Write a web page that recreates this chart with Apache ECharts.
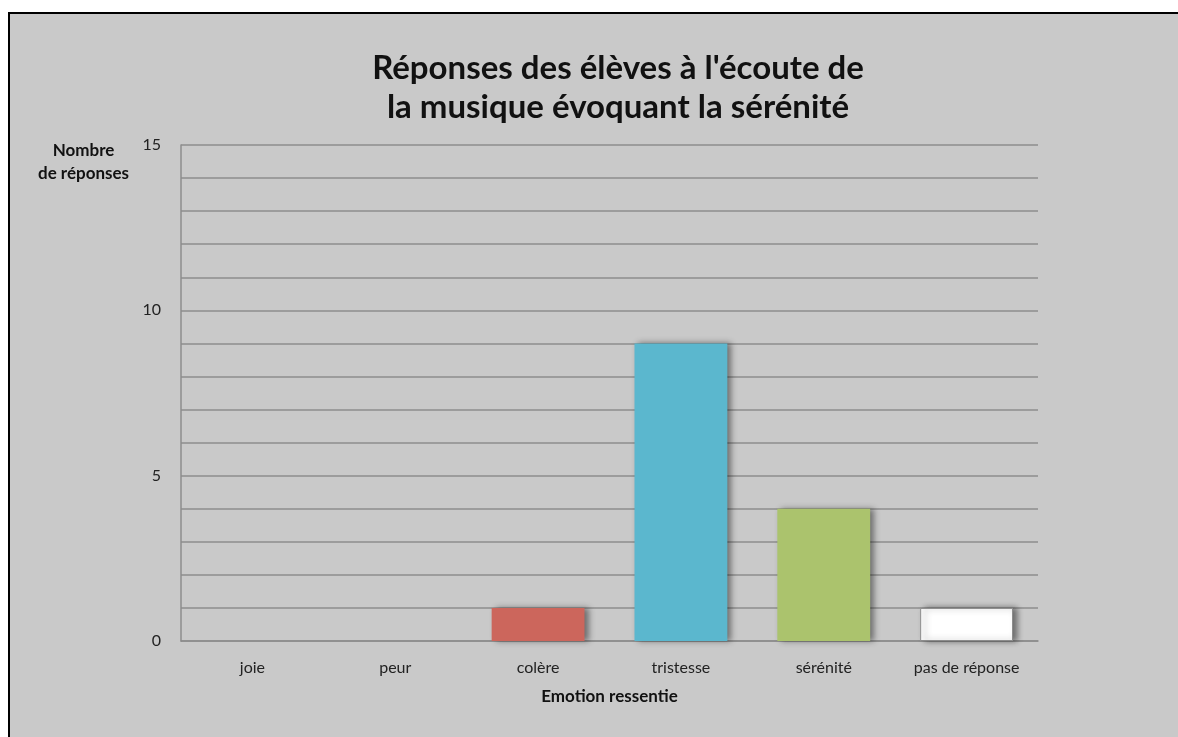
<!DOCTYPE html>
<html>
<head>
<meta charset="utf-8">
<script src="https://cdn.jsdelivr.net/npm/echarts@6/dist/echarts.min.js"></script>
<style>
  body { margin: 0; background: #fff; }
  .frame {
    position: absolute; left: 8px; top: 12px; width: 1200px; height: 800px;
    border-top: 2px solid #000; border-left: 2px solid #000;
    background: #c9c9c9;
  }
  #chart { position: absolute; left: 0; top: 0; width: 1178px; height: 737px; }
</style>
</head>
<body>
<div class="frame"></div>
<div id="chart"></div>
<script>
// données
const emotions = ["joie", "peur", "colère", "tristesse", "sérénité", "pas de réponse"];
const reponses = [0, 0, 1, 9, 4, 1];
const couleurs = ["#cc665c", "#cc665c", "#cc665c", "#5bb7ce", "#abc36d", "#ffffff"];
const yTicks = [0, 5, 10, 15];

let myChart = echarts.init(document.getElementById("chart"));
const font = "Lato, 'Open Sans', sans-serif";

myChart.setOption({
  animation: false,
  textStyle: { fontFamily: font },
  title: {
    text: "Réponses des élèves à l'écoute de\nla musique évoquant la sérénité",
    left: 613,
    top: 44,
    textAlign: "center",
    textStyle: { fontSize: 33, fontWeight: "bold", lineHeight: 39, color: "#111", fontFamily: font }
  },
  graphic: [
    {
      type: "text",
      left: 38,
      top: 139,
      style: {
        text: "Nombre\nde réponses",
        font: "bold 17px " + font,
        fill: "#111",
        textAlign: "center",
        lineHeight: 23
      }
    }
  ],
  grid: { left: 181, top: 145, width: 857, height: 496 },
  xAxis: {
    type: "category",
    data: emotions,
    name: "Emotion ressentie",
    nameLocation: "middle",
    nameGap: 47,
    nameTextStyle: { fontWeight: "bold", fontSize: 17, color: "#111" },
    axisLine: { lineStyle: { color: "#8c8c8c", width: 1.5 } },
    axisTick: { show: false },
    axisLabel: { fontSize: 16, color: "#222", margin: 19 }
  },
  yAxis: {
    type: "value",
    min: 0,
    max: 15,
    interval: 1,
    axisLine: { show: true, lineStyle: { color: "#8c8c8c", width: 1.5 } },
    axisTick: { show: false },
    axisLabel: {
      fontSize: 16, color: "#222", margin: 20,
      formatter: v => (yTicks.indexOf(v) >= 0 ? v : "")
    },
    splitLine: { lineStyle: { color: "#8c8c8c", width: 1.5 } }
  },
  series: [
    {
      type: "bar",
      barWidth: "65%",
      data: reponses.map((v, i) => ({
        value: v,
        itemStyle: {
          color: couleurs[i],
          borderColor: i === 5 ? "#8c8c8c" : couleurs[i],
          borderWidth: i === 5 ? 1 : 0
        }
      })),
      itemStyle: {
        shadowColor: "rgba(0,0,0,0.45)",
        shadowBlur: 6,
        shadowOffsetX: 4,
        shadowOffsetY: 0
      }
    }
  ]
});
</script>
</body>
</html>
